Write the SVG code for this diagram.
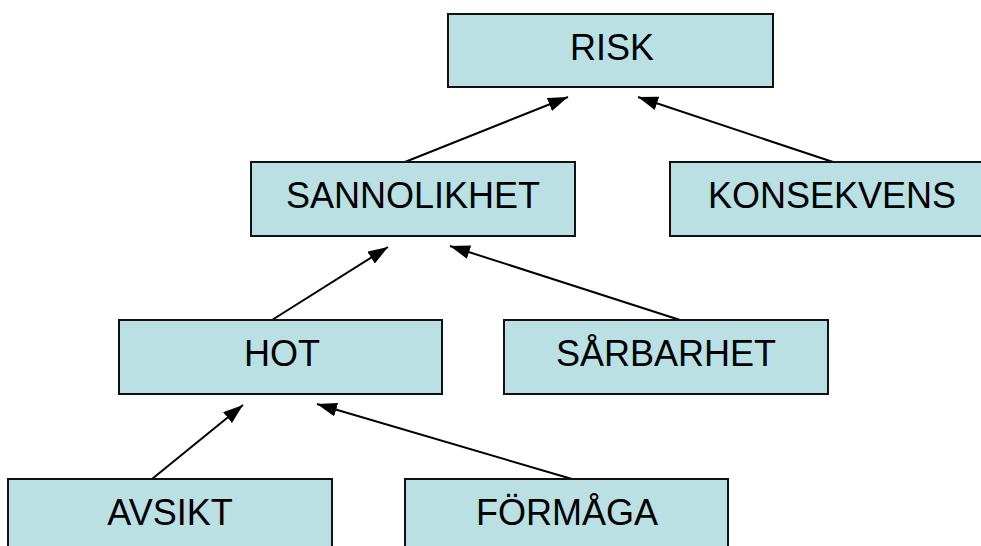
<svg xmlns="http://www.w3.org/2000/svg" width="981" height="546" viewBox="0 0 981 546">
  <style>
    .box { fill: #bae0e3; stroke: #111; stroke-width: 2; }
    .lbl { font-family: "Liberation Sans", Arial, sans-serif; font-size: 36px; fill: #000; text-anchor: middle; }
    .edge { stroke: #000; stroke-width: 2; fill: none; marker-end: url(#arrow); }
  </style>
  <defs>
    <marker id="arrow" markerUnits="userSpaceOnUse" markerWidth="20" markerHeight="14" refX="20" refY="7" orient="auto">
      <path d="M0,0 L20,7 L0,14 z" fill="#000"/>
    </marker>
  </defs>
  <rect width="981" height="546" fill="#fff"/>

  <g id="connectors">
    <line class="edge" x1="405" y1="162" x2="568" y2="97"/>
    <line class="edge" x1="833" y1="162" x2="638" y2="97"/>
    <line class="edge" x1="272" y1="320" x2="388" y2="247"/>
    <line class="edge" x1="680" y1="320" x2="450" y2="246"/>
    <line class="edge" x1="152" y1="479" x2="243" y2="405"/>
    <line class="edge" x1="572" y1="479" x2="317" y2="404"/>
  </g>

  <g id="risk">
    <rect class="box" x="448" y="14" width="325" height="73"/>
    <text class="lbl" x="612" y="60">RISK</text>
  </g>
  <g id="sannolikhet">
    <rect class="box" x="251" y="162" width="324" height="74"/>
    <text class="lbl" x="413" y="208">SANNOLIKHET</text>
  </g>
  <g id="konsekvens">
    <rect class="box" x="670" y="162" width="325" height="74"/>
    <text class="lbl" x="832" y="208">KONSEKVENS</text>
  </g>
  <g id="hot">
    <rect class="box" x="119" y="320" width="323" height="74"/>
    <text class="lbl" x="282" y="366">HOT</text>
  </g>
  <g id="sarbarhet">
    <rect class="box" x="504" y="320" width="324" height="74"/>
    <text class="lbl" x="666" y="366">SÅRBARHET</text>
  </g>
  <g id="avsikt">
    <rect class="box" x="8" y="479" width="324" height="74"/>
    <text class="lbl" x="170" y="525">AVSIKT</text>
  </g>
  <g id="formaga">
    <rect class="box" x="405" y="479" width="323" height="74"/>
    <text class="lbl" x="567" y="525">FÖRMÅGA</text>
  </g>
</svg>
